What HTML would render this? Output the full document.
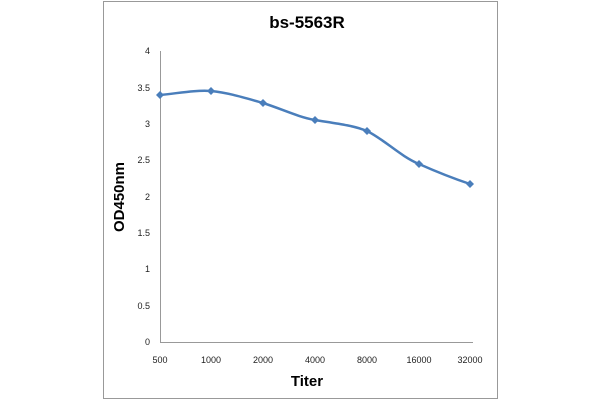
<!DOCTYPE html>
<html><head><style>body{margin:0;background:#fff}</style></head><body>
<svg width="600" height="400" xmlns="http://www.w3.org/2000/svg" font-family="Liberation Sans, sans-serif">
<rect x="103.5" y="1.5" width="394" height="397" fill="#fff" stroke="#999" stroke-width="1"/>
<text x="307" y="28" font-size="17" font-weight="bold" text-anchor="middle">bs-5563R</text>
<line x1="160.5" y1="51" x2="160.5" y2="342" stroke="#999"/>
<line x1="160" y1="342.5" x2="473" y2="342.5" stroke="#999"/>
<g font-size="9" text-anchor="end" fill="#222">
<text x="150" y="54">4</text><text x="150" y="91">3.5</text><text x="150" y="127">3</text>
<text x="150" y="163">2.5</text><text x="150" y="200">2</text><text x="150" y="236">1.5</text>
<text x="150" y="272">1</text><text x="150" y="309">0.5</text><text x="150" y="345">0</text>
</g>
<g font-size="9" text-anchor="middle" fill="#222">
<text x="160" y="363">500</text><text x="211" y="363">1000</text><text x="263" y="363">2000</text>
<text x="315" y="363">4000</text><text x="367" y="363">8000</text><text x="419" y="363">16000</text><text x="470" y="363">32000</text>
</g>
<text x="307" y="386" font-size="15" font-weight="bold" text-anchor="middle">Titer</text>
<text transform="translate(124,197) rotate(-90)" font-size="15" font-weight="bold" text-anchor="middle">OD450nm</text>
<path d="M160,95 C180,93 195,90 211,91 C230,93 245,98 263,103 C282,109 298,117 315,120 C333,123 352,125 367,131 C385,140 400,156 419,164 C437,172 452,178 470,184" fill="none" stroke="#4a7ebb" stroke-width="2.5"/>
<g fill="#4a7ebb">
<path d="M160,91l4,4l-4,4l-4,-4z"/><path d="M211,87l4,4l-4,4l-4,-4z"/><path d="M263,99l4,4l-4,4l-4,-4z"/>
<path d="M315,116l4,4l-4,4l-4,-4z"/><path d="M367,127l4,4l-4,4l-4,-4z"/><path d="M419,160l4,4l-4,4l-4,-4z"/>
<path d="M470,180l4,4l-4,4l-4,-4z"/>
</g>
</svg>
</body></html>
